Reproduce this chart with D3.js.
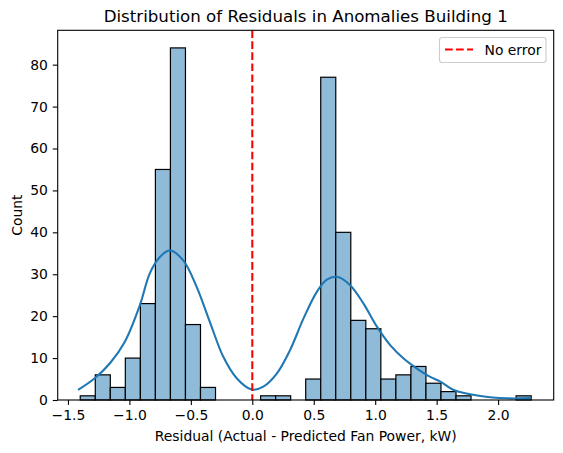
<!DOCTYPE html>
<html lang="en">
<head>
<meta charset="UTF-8">
<title>Distribution of Residuals in Anomalies Building 1</title>
<script src="https://cdn.jsdelivr.net/npm/d3@7"></script>
<style>
  body { margin: 0; background: #fff; }
  svg { display: block; font-family: "DejaVu Sans", sans-serif; }
</style>
</head>
<body>
<svg id="chart" width="563" height="453"></svg>
<script>
// histogram: 30 equal bins starting at binStart
const binStart = -1.40;
const binWidth = 0.1223;
const binCounts = [1, 6, 3, 10, 23, 55, 84, 18, 3, 0,
                   0, 0, 1, 1, 0, 5, 77, 40, 19, 17,
                   5, 6, 8, 4, 2, 1, 0, 0, 0, 1];

// kde curve (count scale)
const kdeX = [-1.418, -1.282, -1.160, -1.037, -0.915, -0.834, -0.752, -0.671, -0.562, -0.453,
              -0.345, -0.236, -0.127, -0.005, 0.090, 0.199, 0.307, 0.416, 0.525, 0.606,
              0.688, 0.796, 0.905, 1.014, 1.122, 1.231, 1.340, 1.448, 1.530, 1.638,
              1.856, 2.073, 2.263];
const kdeY = [2.4, 5.2, 8.7, 13.9, 22.6, 30.2, 34.1, 35.7, 33.3, 27.0,
              18.6, 10.3, 5.2, 2.5, 3.2, 6.3, 11.9, 19.4, 25.8, 28.7,
              29.4, 27.4, 23.0, 17.5, 13.1, 9.9, 7.5, 5.5, 4.4, 2.4,
              0.95, 0.4, 0.45];

const xTicks = [-1.5, -1.0, -0.5, 0.0, 0.5, 1.0, 1.5, 2.0];
const yTicks = [0, 10, 20, 30, 40, 50, 60, 70, 80];

const titleText = "Distribution of Residuals in Anomalies Building 1";
const xLabel = "Residual (Actual - Predicted Fan Power, kW)";
const yLabel = "Count";
const legendLabel = "No error";

const margin = { left: 57.7, right: 553.7, top: 30.3, bottom: 400 };
const svg = d3.select("#chart");

const bins = binCounts.map((c, i) => ({ x0: binStart + i * binWidth, x1: binStart + (i + 1) * binWidth, count: c }));
const xMin = binStart, xMax = binStart + binCounts.length * binWidth;
const pad = (xMax - xMin) * 0.05;

const x = d3.scaleLinear().domain([xMin - pad, xMax + pad]).range([margin.left, margin.right]);
const y = d3.scaleLinear().domain([0, d3.max(binCounts) * 1.05]).range([margin.bottom, margin.top]);

// bars
svg.append("g")
  .selectAll("rect")
  .data(bins.filter(d => d.count > 0))
  .join("rect")
  .attr("x", d => x(d.x0))
  .attr("y", d => y(d.count))
  .attr("width", d => x(d.x1) - x(d.x0))
  .attr("height", d => y(0) - y(d.count))
  .attr("fill", "#8fbbd9")
  .attr("stroke", "#000")
  .attr("stroke-width", 1.2);

// kde
const line = d3.line()
  .x(d => x(d[0]))
  .y(d => y(d[1]))
  .curve(d3.curveCatmullRom.alpha(0.5));
svg.append("path")
  .datum(kdeX.map((v, i) => [v, kdeY[i]]))
  .attr("d", line)
  .attr("fill", "none")
  .attr("stroke", "#1f77b4")
  .attr("stroke-width", 2.08);

// zero line
svg.append("line")
  .attr("x1", x(0)).attr("x2", x(0))
  .attr("y1", margin.top).attr("y2", margin.bottom)
  .attr("stroke", "red")
  .attr("stroke-width", 2.08)
  .attr("stroke-dasharray", "7.7,3.33");

// axes
const xAxis = svg.append("g")
  .attr("transform", `translate(0,${margin.bottom})`)
  .call(d3.axisBottom(x).tickValues(xTicks).tickFormat(d3.format(".1f")).tickSize(4.9).tickPadding(4.9));
const yAxis = svg.append("g")
  .attr("transform", `translate(${margin.left},0)`)
  .call(d3.axisLeft(y).tickValues(yTicks).tickFormat(d3.format("d")).tickSize(4.9).tickPadding(4.9));

[xAxis, yAxis].forEach(g => {
  g.select(".domain").remove();
  g.selectAll("line").attr("stroke", "#000").attr("stroke-width", 1.1);
  g.selectAll("text").attr("font-size", "13.9px").attr("font-family", "DejaVu Sans").attr("fill", "#000");
});
xAxis.selectAll("text").text(d => d3.format(".1f")(d).replace("-", "\u2212"));

// frame
svg.append("rect")
  .attr("x", margin.left).attr("y", margin.top)
  .attr("width", margin.right - margin.left)
  .attr("height", margin.bottom - margin.top)
  .attr("fill", "none")
  .attr("stroke", "#000")
  .attr("stroke-width", 1.1);

// labels
svg.append("text")
  .attr("x", (margin.left + margin.right) / 2).attr("y", 22)
  .attr("text-anchor", "middle")
  .attr("font-size", "16.67px")
  .text(titleText);

svg.append("text")
  .attr("x", (margin.left + margin.right) / 2).attr("y", 441)
  .attr("text-anchor", "middle")
  .attr("font-size", "13.9px")
  .text(xLabel);

svg.append("text")
  .attr("transform", `translate(22,${(margin.top + margin.bottom) / 2}) rotate(-90)`)
  .attr("text-anchor", "middle")
  .attr("font-size", "13.9px")
  .text(yLabel);

// legend
const lg = svg.append("g");
lg.append("rect")
  .attr("x", 439.5).attr("y", 37.5)
  .attr("width", 106.5).attr("height", 25)
  .attr("rx", 2.8)
  .attr("fill", "#fff").attr("fill-opacity", 0.8)
  .attr("stroke", "#ccc").attr("stroke-width", 1.1);
lg.append("line")
  .attr("x1", 445).attr("x2", 473)
  .attr("y1", 49.5).attr("y2", 49.5)
  .attr("stroke", "red")
  .attr("stroke-width", 2.08)
  .attr("stroke-dasharray", "7.7,3.33");
lg.append("text")
  .attr("x", 484.5).attr("y", 54.5)
  .attr("font-size", "13.9px")
  .text(legendLabel);
</script>
</body>
</html>
